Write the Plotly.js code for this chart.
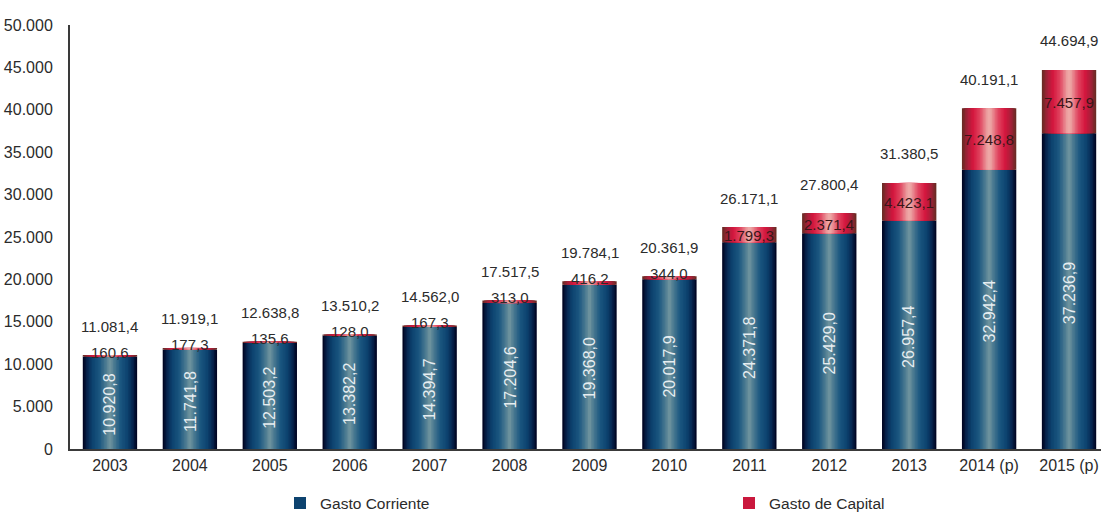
<!DOCTYPE html>
<html>
<head>
<meta charset="utf-8">
<script src="https://cdn.plot.ly/plotly-3.0.1.min.js"></script>
<style>html,body{margin:0;padding:0;background:#fff}#chart{width:1101px;height:513px}</style>
</head>
<body>
<div id="chart"></div>
<script>
var years = ['2003','2004','2005','2006','2007','2008','2009','2010','2011','2012','2013','2014 (p)','2015 (p)'];
var gastoCorriente = [10920.8, 11741.8, 12503.2, 13382.2, 14394.7, 17204.6, 19368.0, 20017.9, 24371.8, 25429.0, 26957.4, 32942.4, 37236.9];
var gastoCapital = [160.6, 177.3, 135.6, 128.0, 167.3, 313.0, 416.2, 344.0, 1799.3, 2371.4, 4423.1, 7248.8, 7457.9];
var totales = [11081.4, 11919.1, 12638.8, 13510.2, 14562.0, 17517.5, 19784.1, 20361.9, 26171.1, 27800.4, 31380.5, 40191.1, 44694.9];
var yTicks = [0, 5000, 10000, 15000, 20000, 25000, 30000, 35000, 40000, 45000, 50000];

var FONT = '"Liberation Sans", Arial, sans-serif';
function fmt(v) {
  var s = v.toFixed(1).split('.');
  return s[0].replace(/\B(?=(\d{3})+(?!\d))/g, '.') + ',' + s[1];
}
function hex2rgb(h){return [parseInt(h.substr(1,2),16),parseInt(h.substr(3,2),16),parseInt(h.substr(5,2),16)];}
function profile(stops, t) {
  for (var i = 0; i < stops.length - 1; i++) {
    var a = stops[i], b = stops[i+1];
    if (t <= a[0] && t >= b[0]) {
      var f = (a[0] - t) / (a[0] - b[0]);
      var ca = hex2rgb(a[1]), cb = hex2rgb(b[1]);
      return 'rgb(' + [0,1,2].map(function(k){return Math.round(ca[k] + (cb[k]-ca[k])*f);}).join(',') + ')';
    }
  }
  return stops[stops.length-1][1];
}
var blueStops = [[1.0,'#010624'],[0.86,'#072650'],[0.68,'#0c426e'],[0.42,'#1a5680'],[0.16,'#4f7d92'],[0.0,'#7a9ba3']];
var redStops = [[1.0,'#6b2b25'],[0.82,'#a8203a'],[0.62,'#d4163e'],[0.36,'#e04560'],[0.1,'#eca0a0'],[0.0,'#f0b0ae']];

var BW = 0.68, N = 18, LEG = 6;
var idx = years.map(function(_, i){return i;});
var traces = [];
var zeros = years.map(function(){return 0;});
for (var k = 0; k < N; k++) {
  var frac = 1 - k / N;
  traces.push({
    type: 'bar', x: years, y: gastoCorriente, base: zeros, width: BW * frac,
    name: 'Gasto Corriente', showlegend: k === LEG, legendrank: 1,
    marker: {color: profile(blueStops, frac), line: {width: 0}},
    hoverinfo: 'skip'
  });
}
for (var k2 = 0; k2 < N; k2++) {
  var frac2 = 1 - k2 / N;
  traces.push({
    type: 'bar', x: years, y: gastoCapital, base: gastoCorriente, width: BW * frac2,
    name: 'Gasto de Capital', showlegend: k2 === LEG, legendrank: 2,
    marker: {color: profile(redStops, frac2), line: {width: 0}},
    hoverinfo: 'skip'
  });
}

var annotations = [];
idx.forEach(function(i) {
  annotations.push({x: i, y: totales[i], xref: 'x', yref: 'y', text: fmt(totales[i]), showarrow: false,
    yanchor: 'middle', yshift: 29, font: {family: FONT, size: 15, color: '#2b2b2b'}});
  var big = gastoCapital[i] > 1000;
  annotations.push({x: i, y: big ? gastoCorriente[i] + gastoCapital[i] / 2 : totales[i], xref: 'x', yref: 'y',
    text: fmt(gastoCapital[i]), showarrow: false, yanchor: 'middle', yshift: big ? -1 : 3,
    font: {family: FONT, size: 15, color: big ? '#3a1618' : '#2b2b2b'}});
  annotations.push({x: i, y: gastoCorriente[i] / 2, xref: 'x', yref: 'y', text: fmt(gastoCorriente[i]),
    showarrow: false, textangle: -90, yanchor: 'middle', yshift: -2,
    font: {family: FONT, size: 16, color: '#e6edf1'}});
});

var layout = {
  width: 1101, height: 513,
  margin: {l: 70, r: 0, t: 25, b: 64, autoexpand: false},
  paper_bgcolor: '#ffffff', plot_bgcolor: '#ffffff',
  separators: ',.',
  barmode: 'overlay',
  showlegend: true,
  font: {family: FONT, size: 16, color: '#2b2b2b'},
  xaxis: {
    type: 'category', range: [-0.5, 12.4], showgrid: false, zeroline: false,
    showline: true, linecolor: '#3a3a3a', linewidth: 2, ticks: '', automargin: false,
    tickfont: {family: FONT, size: 16, color: '#2b2b2b'}, ticklabelstandoff: 1
  },
  yaxis: {
    range: [0, 50000], tickvals: yTicks, tickformat: ',d', showgrid: false, zeroline: false,
    showline: true, linecolor: '#3a3a3a', linewidth: 2, ticks: '', automargin: false,
    tickfont: {family: FONT, size: 16, color: '#2b2b2b'}, ticklabelstandoff: 12
  },
  legend: {
    orientation: 'h', xref: 'container', yref: 'container', x: 280 / 1101, xanchor: 'left',
    y: 0.052, yanchor: 'top', entrywidth: 404, traceorder: 'normal',
    font: {family: FONT, size: 15.5, color: '#2b2b2b'},
    bgcolor: 'rgba(0,0,0,0)', itemclick: false
  },
  annotations: annotations
};

Plotly.newPlot('chart', traces, layout, {displayModeBar: false, staticPlot: true});
</script>
</body>
</html>
